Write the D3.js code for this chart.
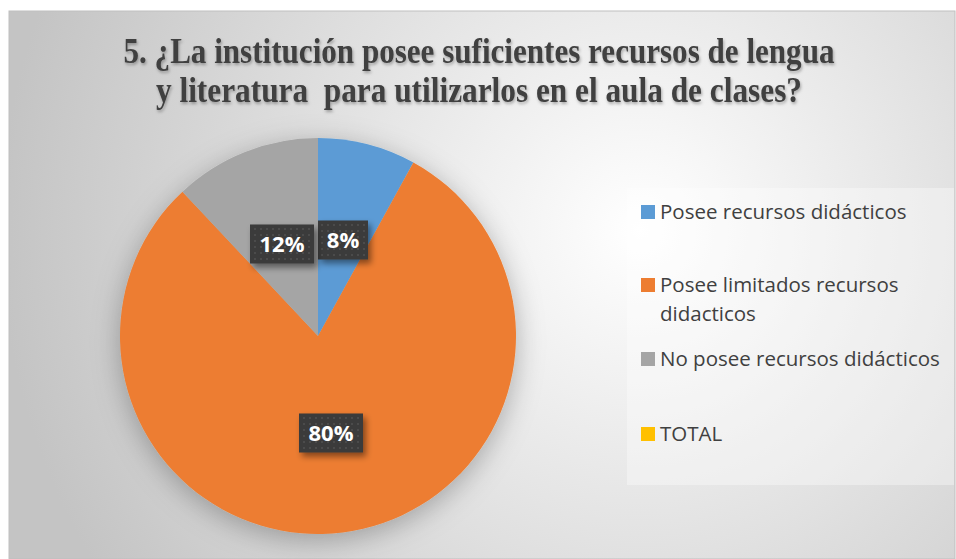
<!DOCTYPE html>
<html>
<head>
<meta charset="utf-8">
<script src="https://cdn.jsdelivr.net/npm/d3@7"></script>
<style>
  body { margin: 0; background: #fff; }
  svg { display: block; }
</style>
</head>
<body>
<div id="chart"></div>
<script>
// datos del grafico
var categories = ["Posee recursos didácticos", "Posee limitados recursos didacticos",
                  "No posee recursos didácticos", "TOTAL"];
var values = [8, 80, 12, 0];
var labels = ["8%", "80%", "12%", ""];
var colors = ["#5b9bd5", "#ed7d31", "#a5a5a5", "#ffc000"];

var width = 956, height = 559;
var svg = d3.select("#chart").append("svg")
  .attr("width", width)
  .attr("height", height);

var defs = svg.append("defs");

var bg = defs.append("radialGradient")
  .attr("id", "bg")
  .attr("gradientUnits", "userSpaceOnUse")
  .attr("cx", 640).attr("cy", 230).attr("r", 640);
bg.append("stop").attr("offset", "0%").attr("stop-color", "#ffffff");
bg.append("stop").attr("offset", "100%").attr("stop-color", "#c4c4c4");

var shadow = defs.append("filter").attr("id", "shadow")
  .attr("x", "-30%").attr("y", "-30%").attr("width", "160%").attr("height", "160%");
shadow.append("feDropShadow")
  .attr("dx", 3).attr("dy", 4).attr("stdDeviation", 3)
  .attr("flood-color", "#000").attr("flood-opacity", 0.45);

var pieShadow = defs.append("filter").attr("id", "pieShadow")
  .attr("x", "-30%").attr("y", "-30%").attr("width", "160%").attr("height", "160%");
pieShadow.append("feDropShadow")
  .attr("dx", 0).attr("dy", 6).attr("stdDeviation", 14)
  .attr("flood-color", "#000").attr("flood-opacity", 0.28);

var dots = defs.append("pattern").attr("id", "dots")
  .attr("patternUnits", "userSpaceOnUse")
  .attr("width", 6).attr("height", 6);
dots.append("rect").attr("width", 6).attr("height", 6).attr("fill", "#3a3a3a");
dots.append("circle").attr("cx", 3).attr("cy", 3).attr("r", 1).attr("fill", "#505050");

var textShadow = defs.append("filter").attr("id", "textShadow");
textShadow.append("feDropShadow")
  .attr("dx", 1).attr("dy", 2).attr("stdDeviation", 1.5)
  .attr("flood-color", "#000").attr("flood-opacity", 0.3);

// fondo del area del grafico
svg.append("rect")
  .attr("x", 9).attr("y", 11)
  .attr("width", 946).attr("height", 548)
  .attr("fill", "url(#bg)")
  .attr("stroke", "#bfbfbf").attr("stroke-width", 1);

// titulo
var title = svg.append("text")
  .attr("text-anchor", "middle")
  .attr("font-family", "Liberation Serif, Times New Roman, serif")
  .attr("font-weight", "bold")
  .attr("font-size", 35)
  .attr("fill", "#404040")
  .style("white-space", "pre")
  .attr("filter", "url(#textShadow)");
title.append("tspan").attr("x", 479).attr("y", 63)
  .attr("textLength", 711).attr("lengthAdjust", "spacingAndGlyphs")
  .text("5. ¿La institución posee suficientes recursos de lengua");
title.append("tspan").attr("x", 479).attr("y", 102)
  .attr("textLength", 646).attr("lengthAdjust", "spacingAndGlyphs")
  .text("y literatura  para utilizarlos en el aula de clases?");

// pastel
var cx = 318, cy = 336, radius = 198;
var pie = d3.pie().sort(null).value(function(d) { return d; });
var arc = d3.arc().innerRadius(0).outerRadius(radius);
var arcs = pie(values);

var g = svg.append("g").attr("transform", "translate(" + cx + "," + cy + ")");
g.append("g").attr("filter", "url(#pieShadow)")
  .selectAll("path")
  .data(arcs)
  .enter()
  .append("path")
  .attr("d", arc)
  .attr("fill", function(d, i) { return colors[i]; });

// etiquetas de datos
var labelPos = [[25, -96], [13, 97], [-36, -92]];
var lg = g.selectAll(".lbl")
  .data(arcs.filter(function(d) { return d.data > 0; }))
  .enter()
  .append("g")
  .attr("class", "lbl")
  .attr("transform", function(d, i) {
    return "translate(" + labelPos[i][0] + "," + labelPos[i][1] + ")";
  });

lg.each(function(d, i) {
  var el = d3.select(this);
  var txt = labels[d.index];
  var w = txt.length === 2 ? 50 : 64;
  el.append("rect")
    .attr("x", -w / 2).attr("y", -19.5)
    .attr("width", w).attr("height", 39)
    .attr("fill", "url(#dots)")
    .attr("filter", "url(#shadow)");
  el.append("text")
    .attr("text-anchor", "middle")
    .attr("dy", "0.36em")
    .attr("font-family", "Open Sans, sans-serif")
    .attr("font-weight", "bold")
    .attr("font-size", 22)
    .attr("fill", "#ffffff")
    .text(txt);
});

// leyenda
svg.append("rect")
  .attr("x", 627).attr("y", 188)
  .attr("width", 327).attr("height", 297)
  .attr("fill", "#ffffff").attr("fill-opacity", 0.35);

var legendY = [212, 285, 359, 434];
var legend = svg.append("g")
  .attr("font-family", "Open Sans, sans-serif")
  .attr("font-size", 20.5)
  .attr("fill", "#404040");

var items = legend.selectAll(".item")
  .data(categories)
  .enter()
  .append("g")
  .attr("class", "item")
  .attr("transform", function(d, i) { return "translate(641," + legendY[i] + ")"; });

items.append("rect")
  .attr("x", 0).attr("y", -7)
  .attr("width", 14).attr("height", 14)
  .attr("fill", function(d, i) { return colors[i]; });

items.each(function(d, i) {
  var t = d3.select(this).append("text").attr("x", 19).attr("dy", "0.35em");
  if (i === 1) {
    t.append("tspan").attr("x", 19).text("Posee limitados recursos");
    t.append("tspan").attr("x", 19).attr("dy", "1.42em").text("didacticos");
  } else {
    t.text(d);
  }
});
</script>
</body>
</html>
